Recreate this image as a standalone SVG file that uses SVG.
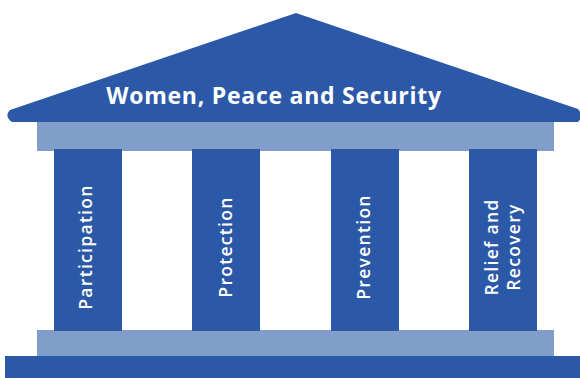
<svg xmlns="http://www.w3.org/2000/svg" width="580" height="378" viewBox="0 0 580 378">
<style>
.dark{fill:#2c59a7}
.light{fill:#819ecb}
.t{fill:#ffffff;font-family:"Open Sans","Noto Sans",sans-serif;}
.title{font-size:23px;font-weight:700;letter-spacing:0.75px}
.lbl{font-size:17.5px;font-weight:600;text-anchor:middle;letter-spacing:1.3px}
</style>
<rect width="580" height="378" fill="#ffffff"/>
<g id="roof">
<path class="dark" d="M296,13 L578,109 Q584,116 578,122 L12,122 Q4,116 10,110 Z"/>
<text class="t title" x="274" y="104" text-anchor="middle">Women, Peace and Security</text>
</g>
<g id="entablature"><rect class="light" x="37" y="122" width="517" height="29"/></g>
<g id="stylobate"><rect class="light" x="37" y="330" width="517" height="26"/></g>
<g id="base"><rect class="dark" x="5" y="356" width="575" height="22"/></g>
<g id="col-participation">
<rect class="dark" x="54" y="149" width="68" height="182"/>
<text class="t lbl" transform="translate(92,247) rotate(-90)">Participation</text>
</g>
<g id="col-protection">
<rect class="dark" x="192" y="149" width="68" height="182"/>
<text class="t lbl" transform="translate(232,247) rotate(-90)">Protection</text>
</g>
<g id="col-prevention">
<rect class="dark" x="331" y="149" width="68" height="182"/>
<text class="t lbl" transform="translate(370,247) rotate(-90)">Prevention</text>
</g>
<g id="col-relief">
<rect class="dark" x="469" y="149" width="68" height="182"/>
<text class="t lbl" transform="translate(498,247) rotate(-90)">Relief and</text>
<text class="t lbl" transform="translate(520,247) rotate(-90)">Recovery</text>
</g>
<g id="connectors"></g>
</svg>
